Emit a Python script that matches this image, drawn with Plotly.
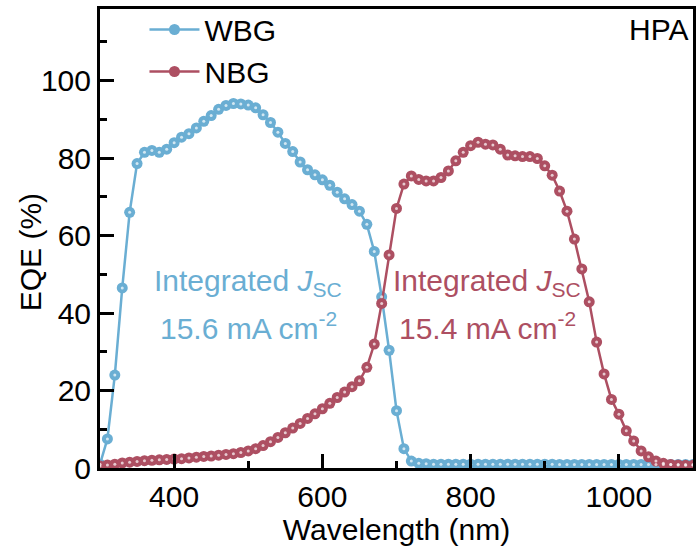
import plotly.graph_objects as go

wavelength = list(range(300, 1101, 10))

wbg_eqe = [1.0, 7.5, 24.0, 46.5, 66.0, 78.6, 81.5, 82.0, 81.5, 82.3,
           84.0, 85.4, 86.3, 87.8, 89.5, 91.0, 92.6, 93.6, 94.1, 94.0,
           93.7, 93.0, 91.2, 89.2, 86.7, 83.8, 81.7, 79.0, 77.0, 75.7,
           74.4, 73.0, 71.2, 69.5, 68.0, 66.3, 62.9, 55.9, 44.2, 30.4,
           14.8, 5.0, 1.8, 1.2, 1.1, 1.0, 1.0, 1.0, 1.0, 1.0,
           1.0, 1.0, 1.0, 1.0, 1.0, 1.0, 1.0, 1.0, 1.0, 1.0,
           1.0, 1.0, 0.9, 0.9, 0.9, 0.9, 0.9, 0.9, 0.9, 0.9,
           0.9, 0.9, 0.9, 0.9, 0.9, 0.9, 0.9, 0.9, 0.9, 0.9, 0.9]

nbg_eqe = [0.5, 0.8, 1.0, 1.3, 1.5, 1.7, 1.9, 2.0, 2.1, 2.2,
           2.3, 2.4, 2.6, 2.8, 3.0, 3.1, 3.3, 3.5, 3.7, 4.0,
           4.4, 5.0, 5.8, 6.8, 7.9, 9.1, 10.3, 11.5, 12.8, 14.0,
           15.3, 16.7, 18.2, 19.6, 21.0, 22.5, 26.0, 32.0, 42.5, 55.0,
           67.0, 73.3, 75.4, 74.5, 74.1, 74.1, 75.0, 76.7, 79.3, 81.5,
           83.2, 84.1, 83.6, 83.4, 82.3, 80.8, 80.6, 80.4, 80.4, 79.9,
           78.0, 75.6, 71.5, 66.3, 59.1, 51.4, 42.9, 32.5, 24.3, 17.7,
           13.9, 9.6, 7.0, 4.4, 2.9, 1.8, 1.2, 0.9, 0.8, 0.7, 0.7]

series_names = ["WBG", "NBG"]
blue = "#6aaed3"
red = "#ad4f62"
FONT = "Liberation Sans, Arial, sans-serif"

fig = go.Figure()
for name, yv, col in [(series_names[0], wbg_eqe, blue), (series_names[1], nbg_eqe, red)]:
    fig.add_trace(go.Scatter(
        x=wavelength, y=yv, name=name, mode="lines+markers",
        line=dict(color=col, width=2.5),
        marker=dict(color=col, size=11, line=dict(width=0)),
    ))
for yv in [wbg_eqe, nbg_eqe]:
    fig.add_trace(go.Scatter(
        x=wavelength, y=yv, mode="markers", showlegend=False, hoverinfo="skip",
        marker=dict(color="rgba(255,255,255,0.7)", size=3, line=dict(width=0)),
    ))

fig.update_layout(
    width=699, height=554,
    margin=dict(l=100, r=3, t=8, b=86),
    paper_bgcolor="white", plot_bgcolor="white",
    font=dict(family=FONT, size=30, color="black"),
    showlegend=True,
    legend=dict(x=0.075, y=1.012, xanchor="left", yanchor="top",
                bgcolor="rgba(0,0,0,0)", font=dict(size=30),
                itemwidth=50, tracegroupgap=0),
    xaxis=dict(range=[300, 1100], showgrid=False, zeroline=False,
               showline=True, linecolor="black", linewidth=3, mirror=True,
               ticks="inside", ticklen=14, tickwidth=3, tickcolor="black",
               tickvals=[400, 600, 800, 1000],
               minor=dict(ticks="inside", ticklen=7, tickwidth=3, tickcolor="black",
                          tickvals=[300, 500, 700, 900, 1100]),
               tickfont=dict(size=30),
               title=dict(text="Wavelength (nm)", font=dict(size=30), standoff=2)),
    yaxis=dict(range=[0, 118.5], showgrid=False, zeroline=False,
               showline=True, linecolor="black", linewidth=3, mirror=True,
               ticks="inside", ticklen=14, tickwidth=3, tickcolor="black",
               tickvals=[0, 20, 40, 60, 80, 100],
               minor=dict(ticks="inside", ticklen=7, tickwidth=3, tickcolor="black",
                          tickvals=[10, 30, 50, 70, 90, 110]),
               tickfont=dict(size=30)),
    annotations=[
        dict(text="EQE (%)", xref="paper", yref="paper", x=-0.118, y=0.47,
             textangle=-90, showarrow=False, font=dict(size=30),
             xanchor="center", yanchor="middle"),
        dict(text="HPA", xref="paper", yref="paper", x=0.995, y=0.995,
             xanchor="right", yanchor="top", showarrow=False, font=dict(size=30)),
        dict(text="Integrated <i>J</i><sub>SC</sub>", xref="paper", yref="paper",
             x=0.25, y=0.405, xanchor="center", yanchor="middle", showarrow=False,
             font=dict(size=30, color=blue)),
        dict(text="15.6 mA cm<sup>-2</sup>", xref="paper", yref="paper",
             x=0.25, y=0.31, xanchor="center", yanchor="middle", showarrow=False,
             font=dict(size=30, color=blue)),
        dict(text="Integrated <i>J</i><sub>SC</sub>", xref="paper", yref="paper",
             x=0.653, y=0.405, xanchor="center", yanchor="middle", showarrow=False,
             font=dict(size=30, color=red)),
        dict(text="15.4 mA cm<sup>-2</sup>", xref="paper", yref="paper",
             x=0.653, y=0.31, xanchor="center", yanchor="middle", showarrow=False,
             font=dict(size=30, color=red)),
    ],
)

fig.write_html("out.html")
